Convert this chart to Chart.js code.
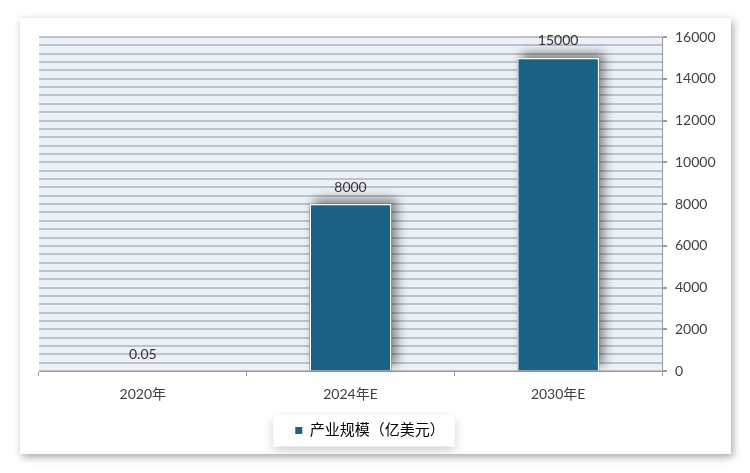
<!DOCTYPE html>
<html lang="zh-CN">
<head>
<meta charset="UTF-8">
<title>产业规模</title>
<script src="https://cdn.jsdelivr.net/npm/chart.js@4.4.0/dist/chart.umd.min.js"></script>
<style>
  * { box-sizing: border-box; margin: 0; padding: 0; }
  body { background: #fff; width: 750px; height: 473px; overflow: hidden; }
  .card { position: absolute; left: 20px; top: 18px; width: 711px; height: 436px; background: #fff; box-shadow: 2px 3px 8px rgba(0,0,0,0.35); }
  canvas { display: block; }
</style>
</head>
<body>
<div class="card"><canvas id="chart" width="711" height="436"></canvas></div>
<script>
// 数据
const categories = ['2020年', '2024年E', '2030年E'];
const values = [0.05, 8000, 15000];
const seriesName = '产业规模（亿美元）';
const yMax = 16000;
const gridStep = 400;    // 横向网格线间距
const labelStep = 2000;  // 刻度标签间距

const barColor = '#1b6384';
const FONT = "Lato, 'Noto Sans CJK SC', sans-serif";
Chart.defaults.font.family = FONT;

// 不到1像素高的柱子原图里看不见
const tooSmall = v => v / yMax * 334 < 1;

// 背景、图例框、柱子阴影、数值标签
const decor = {
  id: 'decor',
  afterLayout(chart) {
    const lg = chart.legend;
    lg.left -= 8; lg.right -= 8;
  },
  beforeDraw(chart) {
    const { ctx, chartArea: a } = chart;
    ctx.save();
    ctx.fillStyle = '#eaf1f8';
    ctx.fillRect(a.left, a.top, a.right - a.left, a.bottom - a.top);
    const hb = chart.legend.legendHitBoxes[0];
    if (hb) {
      ctx.shadowColor = 'rgba(0,0,0,0.18)';
      ctx.shadowBlur = 10;
      ctx.shadowOffsetY = 4;
      ctx.fillStyle = '#fff';
      ctx.fillRect(hb.left - 22, hb.top + hb.height / 2 - 16, hb.width + 32, 32);
    }
    ctx.restore();
  },
  beforeDatasetsDraw(chart) {
    // 只给有高度的柱子画阴影
    const ctx = chart.ctx;
    ctx.save();
    ctx.shadowColor = 'rgba(0,0,0,0.45)';
    ctx.shadowBlur = 10;
    ctx.shadowOffsetX = 5;
    ctx.shadowOffsetY = -5;
    ctx.fillStyle = barColor;
    chart.getDatasetMeta(0).data.forEach(bar => {
      const h = bar.base - bar.y;
      if (!(h >= 1)) return;
      ctx.fillRect(bar.x - bar.width / 2, bar.y, bar.width, h);
    });
    ctx.restore();
  },
  afterDatasetsDraw(chart) {
    const ctx = chart.ctx;
    ctx.save();
    ctx.font = '14px ' + FONT;
    ctx.fillStyle = '#333';
    ctx.textAlign = 'center';
    ctx.textBaseline = 'middle';
    chart.getDatasetMeta(0).data.forEach((bar, i) => {
      ctx.fillText(String(values[i]), bar.x, bar.y - 17);
    });
    ctx.restore();
  }
};

new Chart(document.getElementById('chart'), {
  type: 'bar',
  data: {
    labels: categories,
    datasets: [{
      label: seriesName,
      data: values,
      backgroundColor: c => tooSmall(values[c.dataIndex]) ? 'rgba(0,0,0,0)' : barColor,
      borderColor: '#ffffff',
      borderWidth: c => tooSmall(values[c.dataIndex]) ? 0 : 1.5,
      inflateAmount: 0,
      barPercentage: 0.395,
      categoryPercentage: 1,
    }]
  },
  options: {
    responsive: false,
    animation: false,
    layout: { padding: { left: 19, top: 19, right: 14, bottom: 6 } },
    plugins: {
      tooltip: { enabled: false },
      legend: {
        position: 'bottom',
        labels: {
          boxWidth: 7, boxHeight: 7, padding: 10, color: '#404040', font: { size: 15 },
          generateLabels: () => [{ text: seriesName, fillStyle: barColor, strokeStyle: barColor, lineWidth: 0, hidden: false, datasetIndex: 0 }]
        }
      }
    },
    scales: {
      x: {
        offset: true,
        border: { display: true, color: '#9a9a9a' },
        grid: { offset: true, drawOnChartArea: false, tickLength: 5, color: '#9a9a9a' },
        ticks: { color: '#404040', font: { size: 14 }, padding: 10 }
      },
      y: {
        position: 'right',
        min: 0,
        max: yMax,
        border: { display: true, color: '#9a9a9a' },
        grid: {
          color: '#bfc2c6',
          lineWidth: 2,
          tickLength: 5,
          tickColor: c => (c.tick && c.tick.value % labelStep === 0) ? '#9a9a9a' : 'transparent'
        },
        ticks: {
          stepSize: gridStep,
          autoSkip: false,
          padding: 8,
          color: '#404040',
          font: { size: 14 },
          callback: v => v % labelStep === 0 ? v : ''
        },
        afterFit(scale) { scale.width = 55; }
      }
    }
  },
  plugins: [decor]
});
</script>
</body>
</html>
